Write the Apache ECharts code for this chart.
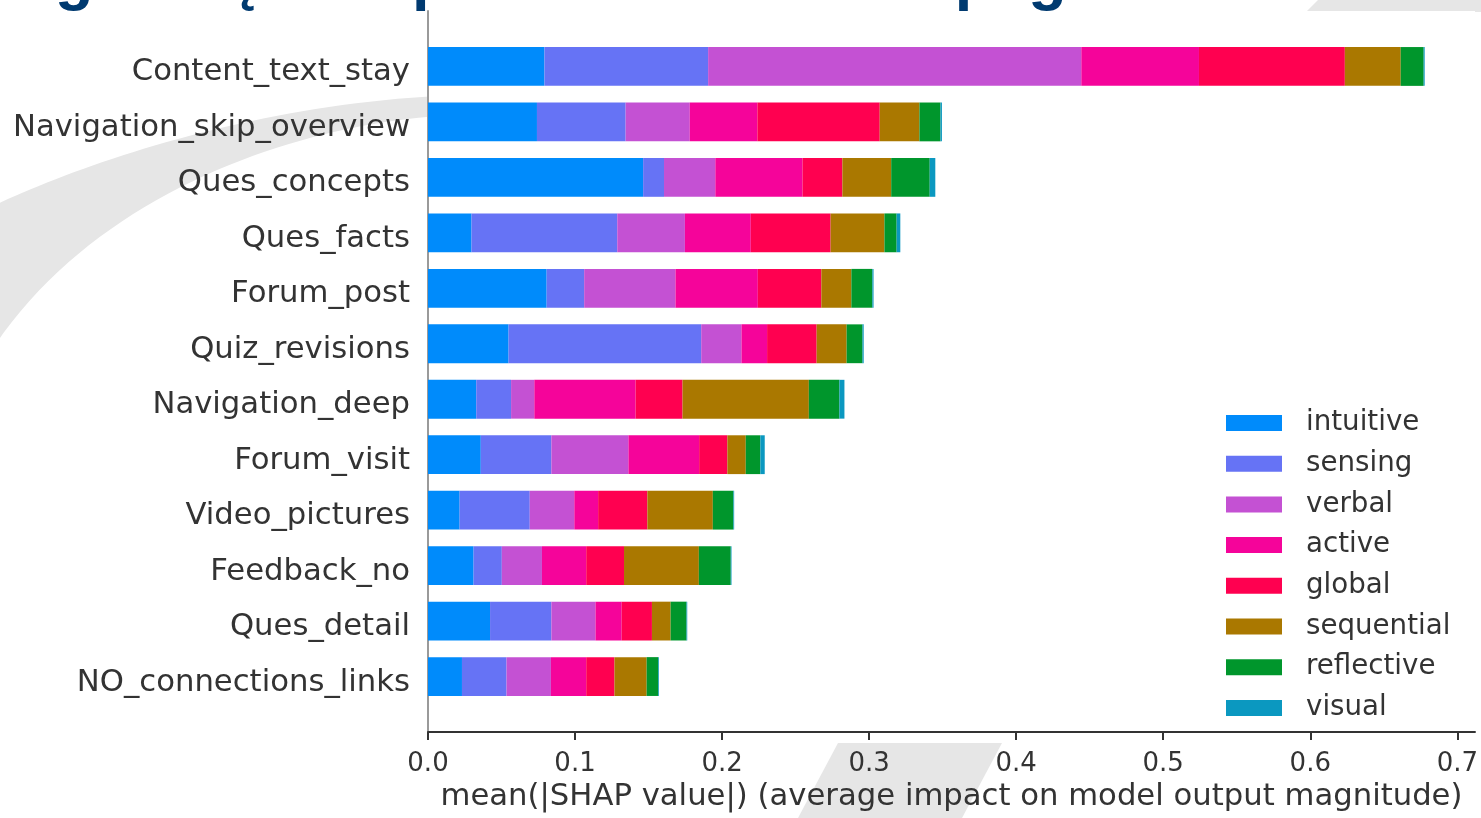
<!DOCTYPE html>
<html>
<head>
<meta charset="utf-8">
<title>SHAP feature importance</title>
<script src="https://cdn.jsdelivr.net/npm/echarts@6/dist/echarts.min.js"></script>
<style>
  html, body { margin: 0; padding: 0; background: #ffffff; }
  #chart { width: 1481px; height: 818px; }
</style>
</head>
<body>
<div id="chart"></div>
<script>
// Features, listed from the top bar down
const categories = [
  'Content_text_stay', 'Navigation_skip_overview', 'Ques_concepts', 'Ques_facts',
  'Forum_post', 'Quiz_revisions', 'Navigation_deep', 'Forum_visit',
  'Video_pictures', 'Feedback_no', 'Ques_detail', 'NO_connections_links'
];

// Class names, in stacking order
const classNames = ['intuitive', 'sensing', 'verbal', 'active', 'global', 'sequential', 'reflective', 'visual'];

// mean(|SHAP value|) per class, one entry per feature
const intuitiveValues  = [0.0792, 0.0741, 0.1463, 0.0296, 0.0807, 0.0548, 0.0328, 0.0359, 0.0215, 0.0310, 0.0422, 0.0231];
const sensingValues    = [0.1113, 0.0603, 0.0142, 0.0991, 0.0255, 0.1310, 0.0237, 0.0480, 0.0477, 0.0192, 0.0417, 0.0303];
const verbalValues     = [0.2538, 0.0436, 0.0349, 0.0460, 0.0621, 0.0274, 0.0158, 0.0524, 0.0303, 0.0273, 0.0300, 0.0302];
const activeValues     = [0.0800, 0.0460, 0.0593, 0.0448, 0.0560, 0.0174, 0.0689, 0.0481, 0.0162, 0.0301, 0.0178, 0.0240];
const globalValues     = [0.0992, 0.0832, 0.0271, 0.0543, 0.0432, 0.0337, 0.0319, 0.0192, 0.0335, 0.0257, 0.0206, 0.0192];
const sequentialValues = [0.0380, 0.0270, 0.0332, 0.0366, 0.0204, 0.0204, 0.0859, 0.0125, 0.0445, 0.0509, 0.0127, 0.0219];
const reflectiveValues = [0.0156, 0.0143, 0.0262, 0.0083, 0.0143, 0.0108, 0.0208, 0.0099, 0.0140, 0.0217, 0.0108, 0.0079];
const visualValues     = [0.0007, 0.0010, 0.0038, 0.0025, 0.0008, 0.0008, 0.0034, 0.0030, 0.0005, 0.0005, 0.0005, 0.0005];

// X axis tick labels
const xTicks = [0.0, 0.1, 0.2, 0.3, 0.4, 0.5, 0.6, 0.7];

const classColors = ['#008bfb', '#6673f5', '#c451d3', '#f5049a', '#ff0050', '#aa7800', '#00962c', '#0b98c0'];
const classValues = [intuitiveValues, sensingValues, verbalValues, activeValues,
                     globalValues, sequentialValues, reflectiveValues, visualValues];

// One empty slot above and below the features leaves a full row of margin
const yCategories = [''].concat(categories, ['']);
const padRow = vals => [null].concat(vals, [null]);

const FONT = '"DejaVu Sans", sans-serif';
const TEXT = '#333333';

// Sample a cubic Bezier into polygon points (for the background swoosh)
function cubic(p0, p1, p2, p3, steps) {
  const pts = [];
  for (let i = 0; i <= steps; i++) {
    const t = i / steps, u = 1 - t;
    pts.push([
      u * u * u * p0[0] + 3 * u * u * t * p1[0] + 3 * u * t * t * p2[0] + t * t * t * p3[0],
      u * u * u * p0[1] + 3 * u * u * t * p1[1] + 3 * u * t * t * p2[1] + t * t * t * p3[1]
    ]);
  }
  return pts;
}
const swoosh = cubic([-5, 205], [80, 165], [250, 105], [440, 96], 40)
  .concat(cubic([440, 116], [300, 125], [100, 190], [-5, 345], 40));

const series = classNames.map((name, i) => ({
  name: name,
  type: 'bar',
  stack: 'total',
  barWidth: '70%',
  data: padRow(classValues[i]),
  itemStyle: { color: classColors[i] },
  emphasis: { disabled: true }
}));

const chart = echarts.init(document.getElementById('chart'), null, { renderer: 'canvas' });

chart.setOption({
  animation: false,
  backgroundColor: '#ffffff',
  textStyle: { fontFamily: FONT },
  graphic: [
    // light grey slide decoration behind the plot
    {
      type: 'polygon', z: -10, silent: true,
      shape: { points: swoosh },
      style: { fill: '#e6e6e6' }
    },
    {
      type: 'polygon', z: -10, silent: true,
      shape: { points: [[838, 743], [1002, 743], [962, 818], [798, 818]] },
      style: { fill: '#e6e6e6' }
    },
    {
      type: 'polygon', z: -10, silent: true,
      shape: { points: [[1318, 0], [1481, 0], [1481, 12], [1306, 12]] },
      style: { fill: '#e6e6e6' }
    },
    // slide heading, mostly above the page edge
    {
      type: 'text', z: 100, silent: true,
      x: -50, y: -19,
      style: {
        text: 'Prognozių interpretavimas SHAP pagalba',
        font: 'bold 63px "Liberation Sans", Arial, sans-serif',
        fill: '#003a70',
        verticalAlign: 'middle',
        align: 'left'
      }
    }
  ],
  grid: {
    left: 428,
    right: 3,
    top: 11,
    height: 730,
    show: true,
    backgroundColor: '#ffffff',
    borderWidth: 0
  },
  legend: {
    orient: 'vertical',
    left: 1226,
    top: 409,
    padding: 0,
    itemWidth: 56,
    itemHeight: 16,
    itemGap: 12.7,
    icon: 'rect',
    selectedMode: false,
    data: classNames,
    textStyle: {
      fontFamily: FONT,
      fontSize: 27.7,
      lineHeight: 28,
      color: TEXT,
      padding: [0, 0, 0, 19]
    }
  },
  xAxis: {
    type: 'value',
    min: 0,
    max: 0.712,
    name: 'mean(|SHAP value|) (average impact on model output magnitude)',
    nameLocation: 'middle',
    nameGap: 50,
    nameTextStyle: { fontFamily: FONT, fontSize: 30.7, color: TEXT },
    axisLine: { show: true, lineStyle: { color: '#333333', width: 2 } },
    axisTick: { show: true, length: 8, customValues: xTicks, lineStyle: { color: '#333333', width: 2 } },
    axisLabel: {
      customValues: xTicks,
      formatter: v => v.toFixed(1),
      fontFamily: FONT,
      fontSize: 26,
      color: TEXT,
      margin: 19
    },
    splitLine: { show: false }
  },
  yAxis: {
    type: 'category',
    data: yCategories,
    inverse: true,
    boundaryGap: false,
    axisLine: { show: true, lineStyle: { color: '#9a9a9a', width: 2 } },
    axisTick: { show: false },
    axisLabel: {
      fontFamily: FONT, fontSize: 30.7, color: TEXT, margin: 18, interval: 0,
      verticalAlign: 'top',
      lineHeight: 12
    },
    splitLine: { show: false }
  },
  series: series
});
</script>
</body>
</html>
